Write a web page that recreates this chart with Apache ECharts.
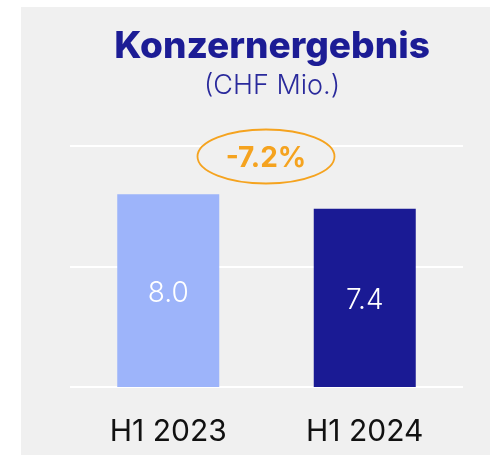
<!DOCTYPE html>
<html lang="de">
<head>
    <meta charset="utf-8">
    <title>Konzernergebnis</title>
    <script src="https://cdn.jsdelivr.net/npm/echarts@6/dist/echarts.min.js"></script>
    <style>
        html, body, #chart {
            width: 490px; height: 455px; margin: 0; padding: 0; overflow: hidden; background-color: #ffffff;
        }
    </style>
</head>
<body>
<div id="chart"></div>
<script type="text/javascript">
    // Daten
    var categories = ['H1 2023', 'H1 2024'];
    var values = [8.0, 7.4];
    var barColors = ['#9db4fa', '#1a1a94'];
    var changeLabel = '-7.2%';
    var titleText = 'Konzernergebnis';
    var subtitleText = '(CHF Mio.)';

    var myChart = echarts.init(document.getElementById('chart'));

    var option = {
        backgroundColor: '#ffffff',
        animation: false,
        title: {
            text: titleText,
            subtext: subtitleText,
            left: 267,
            textAlign: 'center',
            top: 23,
            itemGap: 7,
            textStyle: { fontFamily: 'Inter', fontWeight: 800, fontSize: 37, color: '#1c1c95' },
            subtextStyle: { fontFamily: 'Inter', fontWeight: 300, fontSize: 27, color: '#2a2a9c' }
        },
        graphic: [
            // grauer Hintergrund
            { type: 'rect', z: -10, shape: { x: 21, y: 7, width: 470, height: 450 }, style: { fill: '#f0f0f0' } },
            // Veraenderung
            {
                type: 'ellipse', z: 100,
                shape: { cx: 266, cy: 156.5, rx: 68.5, ry: 27 },
                style: { fill: '#f0f0f0', stroke: '#f5a31f', lineWidth: 1.8 }
            },
            {
                type: 'text', z: 101, x: 266, y: 159,
                style: {
                    text: changeLabel, x: 0, y: 0, align: 'center', verticalAlign: 'middle',
                    fontFamily: 'Inter', fontWeight: 700, fontSize: 28, fill: '#f5a31f'
                }
            }
        ],
        grid: { left: 70, right: 27, top: 146, bottom: 68 },
        xAxis: {
            type: 'category',
            data: categories,
            axisLine: { show: false },
            axisTick: { show: false },
            axisLabel: { margin: 30, fontFamily: 'Inter', fontSize: 30, color: '#111111' }
        },
        yAxis: {
            type: 'value',
            min: 0,
            max: 10,
            interval: 5,
            axisLabel: { show: false },
            axisLine: { show: false },
            axisTick: { show: false },
            splitLine: { lineStyle: { color: '#ffffff', width: 2 } }
        },
        series: [
            {
                type: 'bar',
                barWidth: 102,
                data: values.map(function (v, i) {
                    return { value: v, itemStyle: { color: barColors[i] } };
                }),
                label: {
                    show: true,
                    position: 'inside',
                    offset: [0, 3],
                    formatter: function (p) { return p.value.toFixed(1); },
                    fontFamily: 'Inter', fontWeight: 300, fontSize: 28, color: '#ffffff'
                }
            }
        ]
    };

    myChart.setOption(option);
</script>
</body>
</html>
